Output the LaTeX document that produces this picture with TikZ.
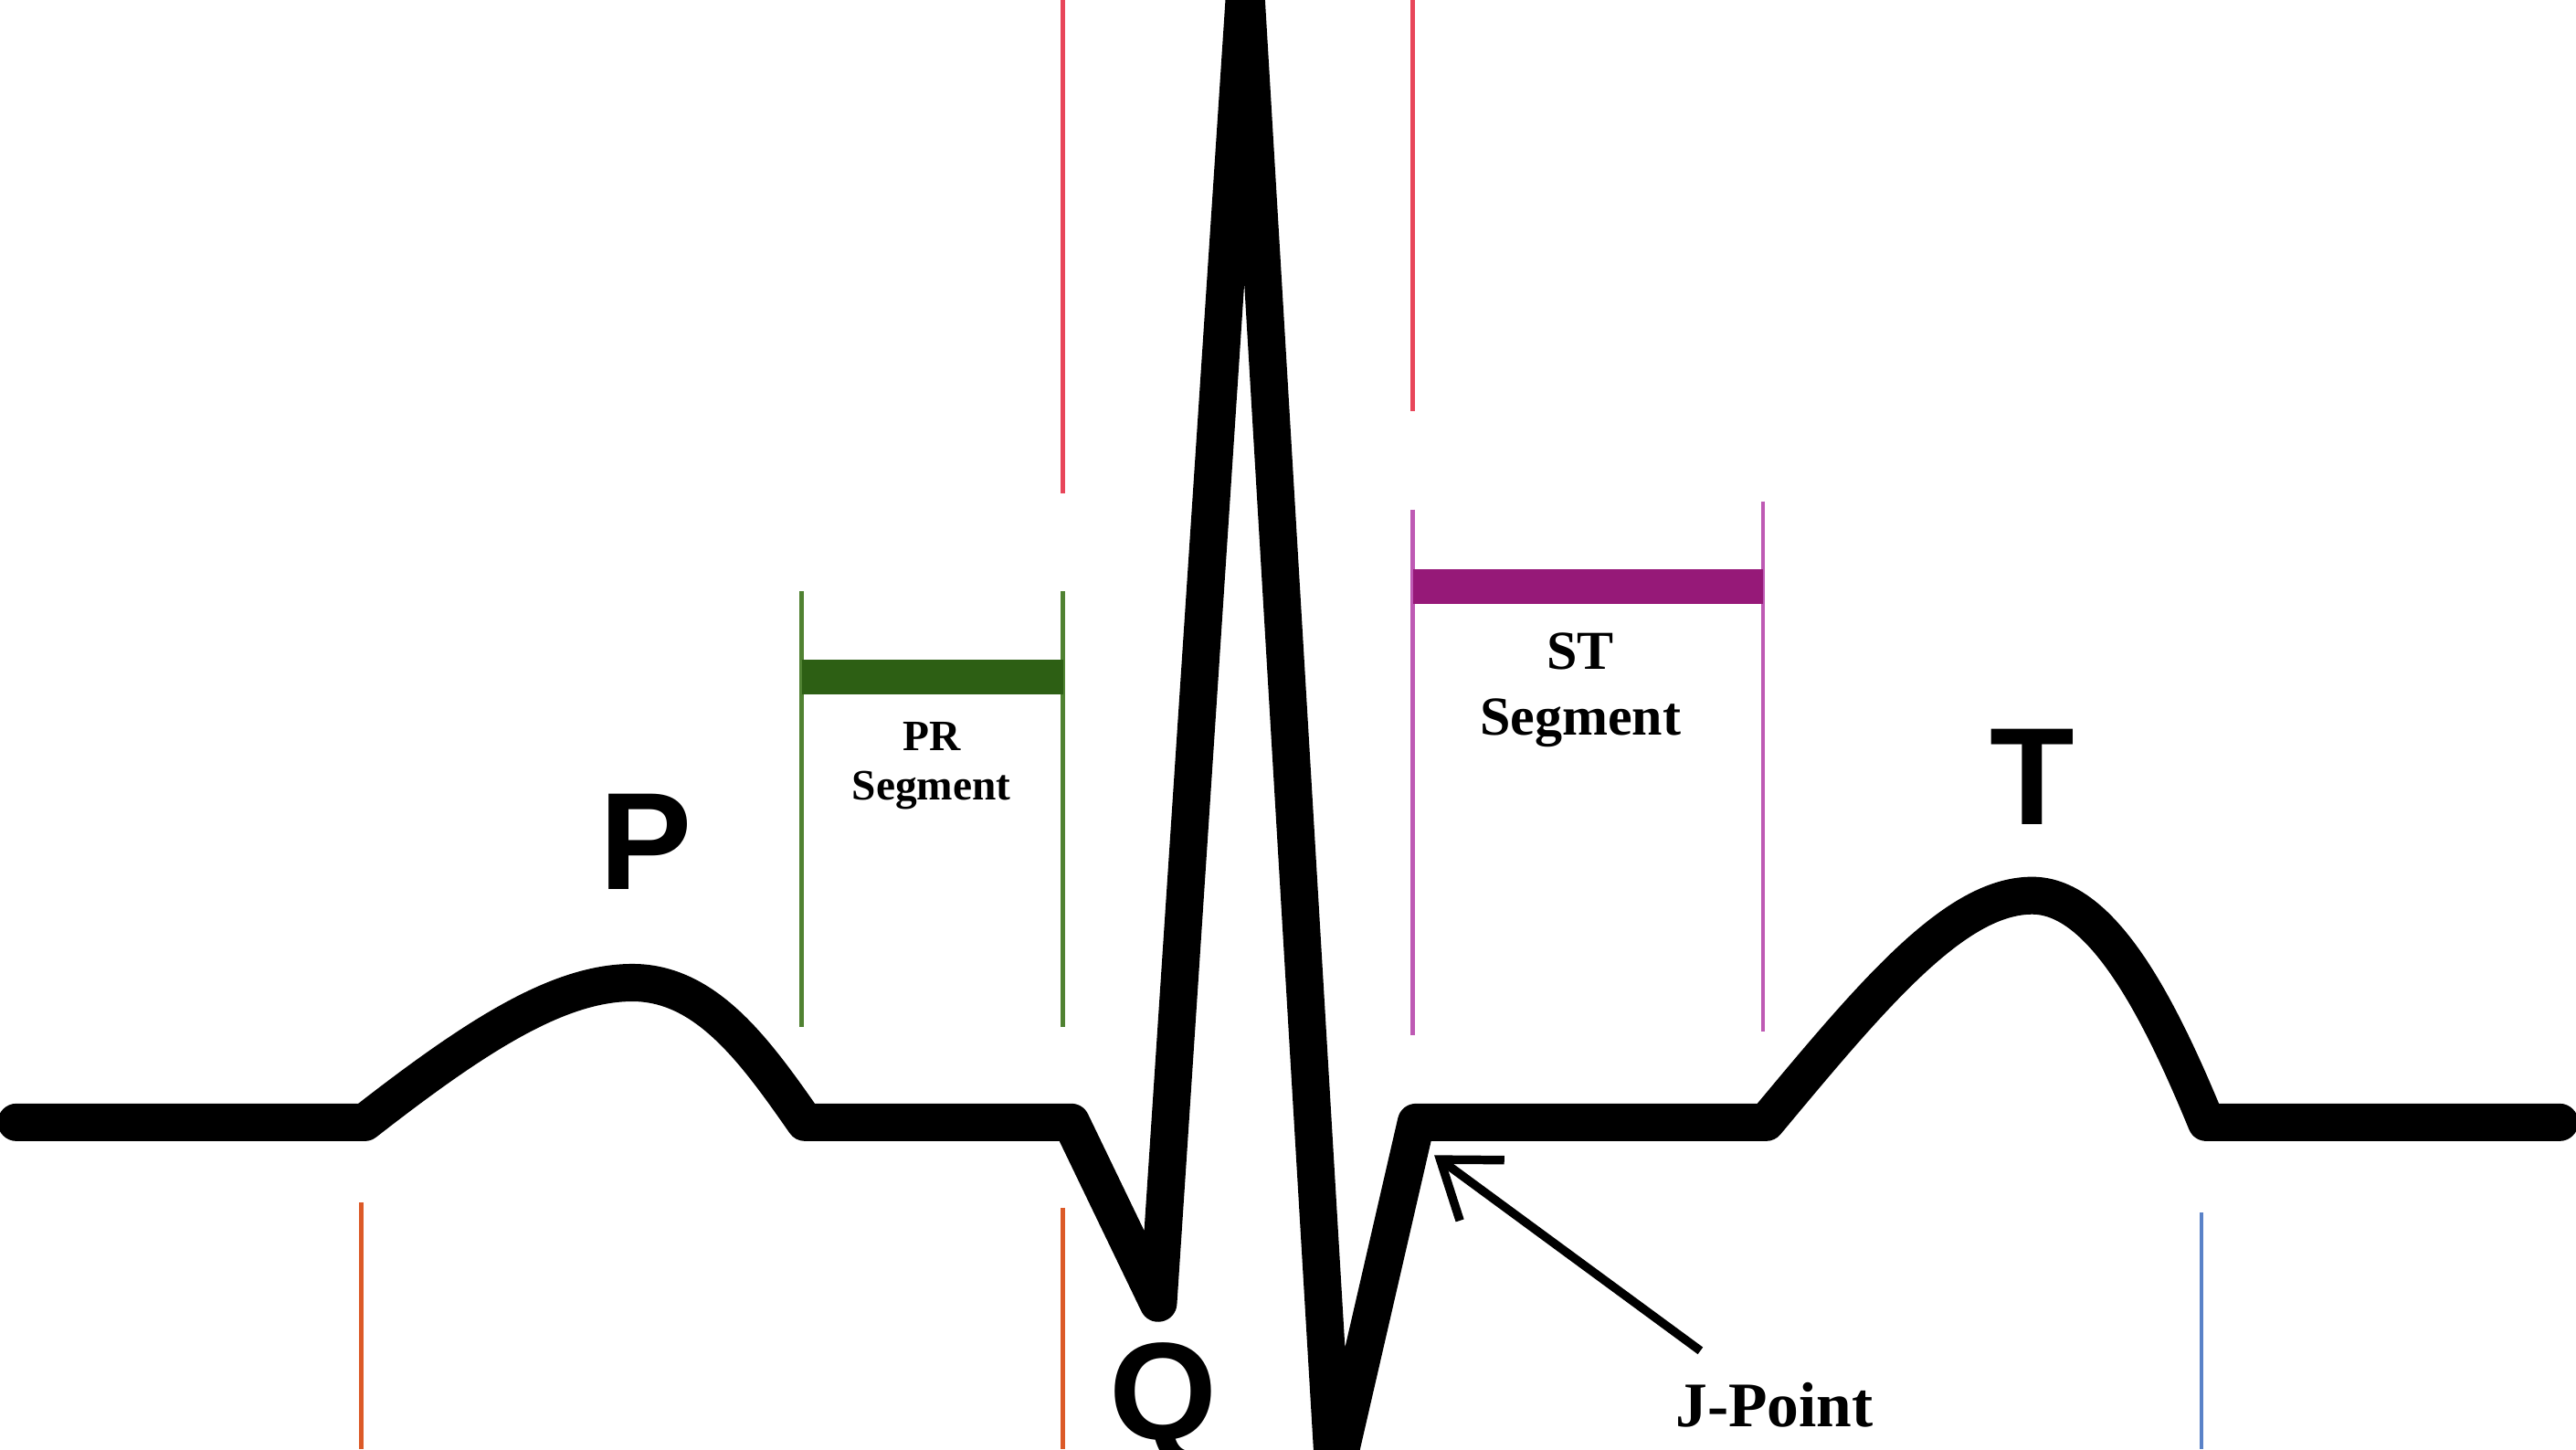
\documentclass[tikz,border=0pt]{standalone}
\usepackage{fontspec}
\setmainfont{Liberation Serif}
\newfontfamily\lsans{Liberation Sans}
\usetikzlibrary{arrows.meta}
\definecolor{redl}{RGB}{232,70,90}
\definecolor{grn}{RGB}{45,95,20}
\definecolor{grnl}{RGB}{80,130,50}
\definecolor{pur}{RGB}{150,25,120}
\definecolor{purl}{RGB}{190,90,180}
\definecolor{orn}{RGB}{220,90,40}
\definecolor{blu}{RGB}{90,130,200}
\tikzset{
 wave/.style={line width=13pt,line join=round,line cap=round},
 thin/.style={line width=1.4pt},
 big/.style={font=\lsans\bfseries\fontsize{48}{50}\selectfont},
 lab/.style={font=\bfseries, align=center}
}
\begin{document}
\begin{tikzpicture}[x=0.02cm,y=-0.02cm]
\useasboundingbox (0,0) rectangle (1568,882);
\clip (0,0) rectangle (1568,882);
% red
\draw[thin,redl] (647,0)--(647,300);
\draw[thin,redl] (860,0)--(860,250);
% green
\draw[thin,grnl] (488,360)--(488,625);
\draw[thin,grnl] (647,360)--(647,625);
\draw[line width=12pt,grn] (488,412)--(647,412);
% purple
\draw[thin,purl] (860,310)--(860,630);
\draw[thin,purl] (1073,305)--(1073,628);
\draw[line width=12pt,pur] (860,357)--(1073,357);
% bottom
\draw[thin,orn] (220,732)--(220,882);
\draw[thin,orn] (647,735)--(647,882);
\draw[thin,blu] (1340,738)--(1340,882);
% wave
\draw[wave] (10,683)--(222,683) .. controls (290,630) and (340,598) .. (385,598)
 .. controls (430,598) and (460,640) .. (490,683) -- (652,683) -- (705,793)
 -- (758,-10) -- (812,900) -- (862,683) -- (1075,683)
 .. controls (1140,605) and (1190,545) .. (1237,545)
 .. controls (1280,545) and (1315,615) .. (1343,683) -- (1558,683);
% labels
\node[big] (p) at (393,512) {P};
\node[big] (t) at (1237,473) {T};
\node[big] (q) at (708,855) {Q};
\node[lab,font=\bfseries\fontsize{15}{17}\selectfont] (pr) at (567,466) {PR\\Segment};
\node[lab,font=\bfseries\fontsize{19}{23}\selectfont] (st) at (962,420) {ST\\Segment};
\node[lab,font=\bfseries\fontsize{22}{25}\selectfont] (jp) at (1080,855) {J-Point};
\coordinate (j) at (873,703);
\coordinate (js) at (1035,822);
\draw[line width=3pt,-{Straight Barb[length=18pt,width=26pt]}] (js)--(j);
\end{tikzpicture}
\end{document}
